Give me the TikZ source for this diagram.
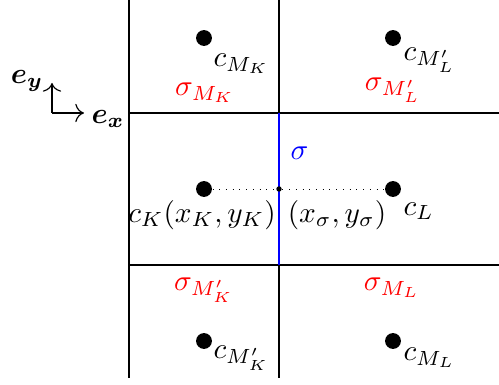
\documentclass[tikz,border=0pt]{standalone}
\usepackage{amsmath,amssymb}
\usepackage{bm}
\usepackage{tikz}
\usetikzlibrary{positioning,arrows.meta}

\tikzset{
  centre/.style={circle, fill=black, inner sep=0pt, minimum size=0.19cm},
  facedot/.style={circle, fill=black, inner sep=0pt, minimum size=0.065cm},
  facelbl/.style={text=red},
  lbl/.style={anchor=west, inner sep=1pt},
}

\begin{document}
\begin{tikzpicture}[x=0.012cm, y=0.012cm]
  \useasboundingbox (0,0) rectangle (499,385);
  % Mesh lines
  \draw (129,385) -- (129,7);
  \draw (279,385) -- (279,272);
  \draw (279,120) -- (279,7);
  \draw (129,272) -- (499,272);
  \draw (129,120) -- (499,120);
  % Interface sigma
  \draw[blue] (279,272) -- (279,120);
  % Cell centres
  \node[centre] (cMK)  at (204,347) {};
  \node[centre] (cMLp) at (393,347) {};
  \node[centre] (cK)   at (204,196) {};
  \node[centre] (cL)   at (393,196) {};
  \node[centre] (cMKp) at (204,44) {};
  \node[centre] (cML)  at (393,44) {};
  \node[facedot] (xs)  at (279,196) {};
  \draw[dotted, line width=0.3pt] (cK) -- (xs) -- (cL);
  % Basis vectors
  \coordinate (o) at (52,272);
  \coordinate (ey) at (52,302);
  \coordinate (ex) at (84,272);
  \draw[-{To[scale=1.2]}] (o) -- (ey);
  \draw[-{To[scale=1.2]}] (o) -- (ex);
  \node (ley) at (27,304) {$\bm{e_y}$};
  \node (lex) at (108,266) {$\bm{e_x}$};
  % Labels
  \node[lbl] (lcMK)  at (210,321) {$c_{M_K}$};
  \node[lbl] (lcMLp) at (400,325) {$c_{M'_L}$};
  \node (lcK) at (202,170) {$c_K(x_K,y_K)$};
  \node (lxs) at (337,170) {$(x_\sigma,y_\sigma)$};
  \node[lbl] (lcL)   at (400,174) {$c_L$};
  \node[lbl] (lcMKp) at (210,27) {$c_{M'_K}$};
  \node[lbl] (lcML)  at (400,27) {$c_{M_L}$};
  \node[facelbl] (sMK)  at (205,292) {$\sigma_{M_K}$};
  \node[facelbl] (sMLp) at (393,295) {$\sigma_{M'_L}$};
  \node[facelbl] (sMKp) at (204,95) {$\sigma_{M'_K}$};
  \node[facelbl] (sML)  at (392,97) {$\sigma_{M_L}$};
  \node[blue, lbl] (ls) at (287,232) {$\sigma$};
\end{tikzpicture}
\end{document}
